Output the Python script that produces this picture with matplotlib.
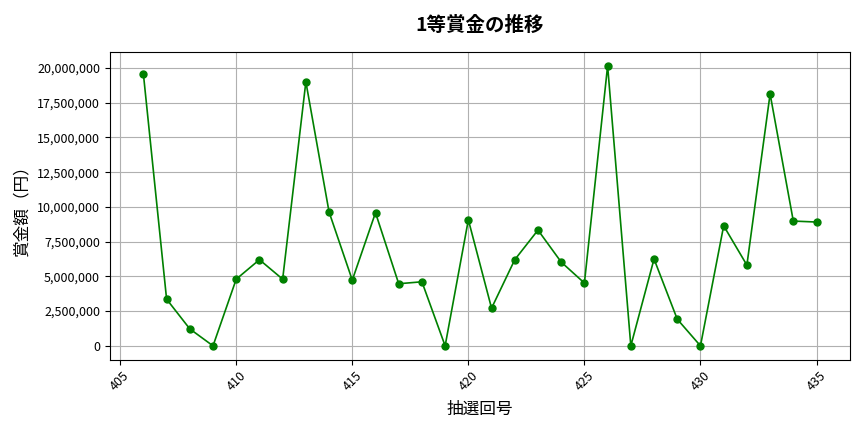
import matplotlib
matplotlib.use("Agg")
import matplotlib.pyplot as plt
from matplotlib.ticker import FuncFormatter

plt.rcParams['font.family'] = ['Noto Sans CJK JP', 'DejaVu Sans']

# draw numbers and 1st prize amounts (yen)
draws = list(range(406, 436))
prize = [
    19570000, 3360000, 1220000, 0, 4800000, 6200000, 4800000, 19000000,
    9630000, 4730000, 9580000, 4470000, 4610000, 0, 9070000, 2710000,
    6200000, 8330000, 6030000, 4520000, 20150000, 0, 6250000, 1920000,
    0, 8640000, 5810000, 18130000, 8980000, 8910000,
]

fig, ax = plt.subplots(figsize=(8.64, 4.32), dpi=100)
ax.plot(draws, prize, color='green', marker='o', markersize=5, linewidth=1.2)

ax.set_title('1等賞金の推移', fontsize=14, fontweight='bold', pad=15)
ax.set_xlabel('抽選回号', fontsize=12, labelpad=5)
ax.set_ylabel('賞金額（円）', fontsize=12, labelpad=5)
ax.yaxis.set_major_formatter(FuncFormatter(lambda v, p: f'{int(v):,}'))
ax.tick_params(axis='x', labelrotation=45, labelsize=9)
ax.tick_params(axis='y', labelsize=9)
ax.grid(True, color='#b0b0b0', linewidth=0.8)

fig.subplots_adjust(left=0.127, right=0.984, top=0.88, bottom=0.167)
fig.savefig('out.png')
